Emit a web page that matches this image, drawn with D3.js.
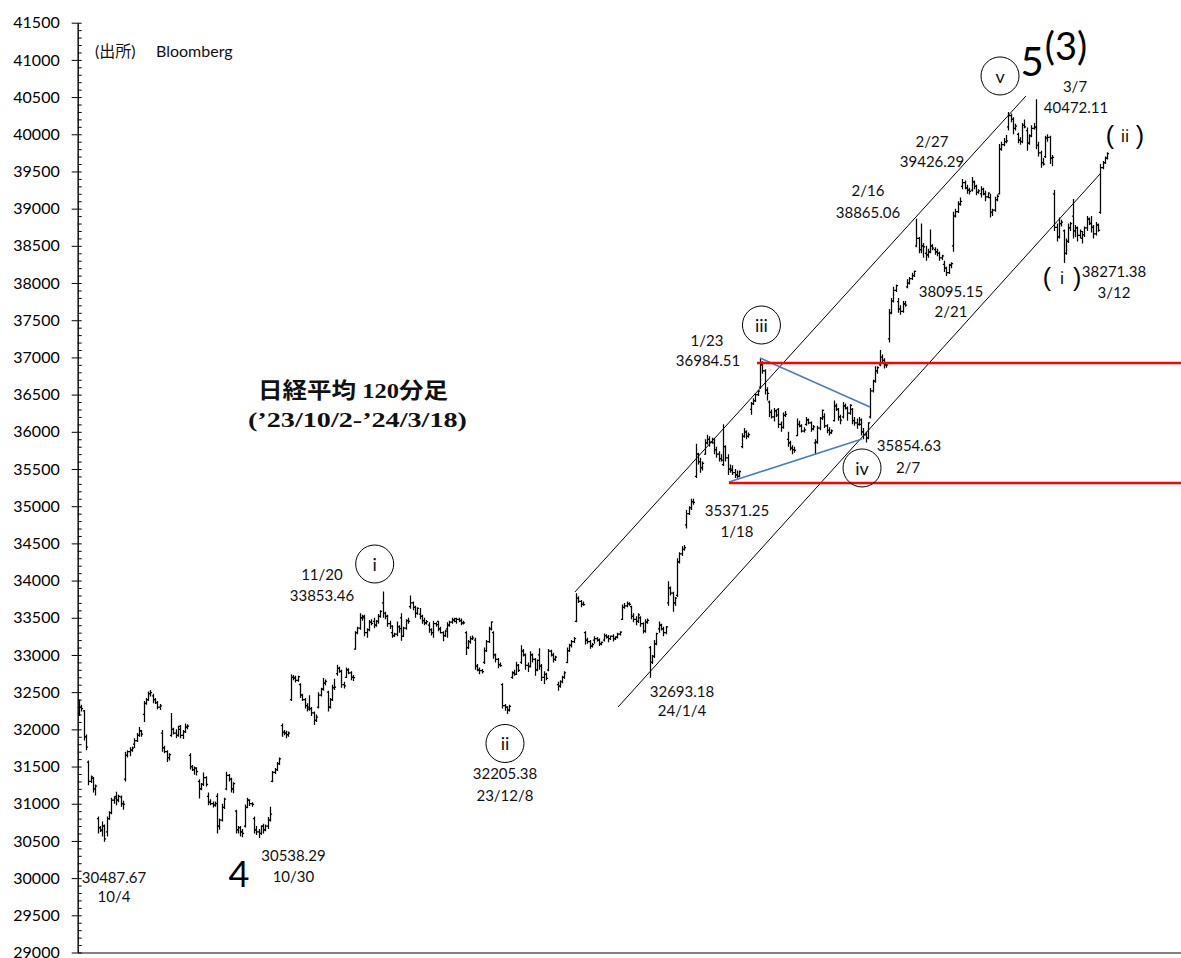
<!DOCTYPE html>
<html><head><meta charset="utf-8">
<script src="https://cdn.jsdelivr.net/npm/d3@7"></script>
<style>body{margin:0;background:#fff}</style>
</head><body><svg id="c" width="1181" height="958"></svg>
<script>
// ===== DATA: Nikkei 225, 120-minute bars, 4 bars per trading day, [open, high, low, close] =====
const oct23 = [
 [[32210,32400,32180,32300],[32300,32330,32240,32280],[32250,32260,31850,31900],[31900,31930,31720,31760]], // 10/2
 [[31560,31580,31250,31300],[31300,31380,31280,31360],[31340,31360,31150,31200],[31200,31260,31110,31238]], // 10/3
 [[30800,30830,30600,30680],[30680,30700,30620,30650],[30640,30760,30560,30700],[30700,30720,30488,30527]], // 10/4
 [[30620,30830,30560,30800],[30800,30900,30780,30880],[30880,31080,30860,31050],[31050,31100,31000,31075]], // 10/5
 [[31100,31160,30980,31050],[31050,31120,31020,31100],[31090,31110,30960,31000],[31000,31040,30920,30995]], // 10/6
 [[31330,31700,31300,31650],[31650,31720,31620,31700],[31700,31760,31640,31720],[31720,31770,31700,31747]], // 10/10
 [[31800,31880,31750,31850],[31850,31950,31830,31920],[31920,32030,31900,31980],[31980,31990,31900,31937]], // 10/11
 [[32200,32380,32100,32350],[32350,32420,32330,32400],[32400,32510,32380,32480],[32480,32530,32440,32495]], // 10/12
 [[32450,32480,32350,32400],[32400,32420,32340,32360],[32360,32380,32270,32300],[32300,32340,32260,32316]], // 10/13
 [[31950,31990,31700,31750],[31750,31780,31680,31700],[31700,31720,31560,31620],[31620,31680,31580,31659]], // 10/16
 [[31920,32220,31900,32000],[32000,32020,31930,31950],[31950,32000,31880,31920],[31920,32050,31900,32040]], // 10/17
 [[32000,32060,31880,31920],[31920,31990,31870,31970],[31970,32080,31950,32030],[32030,32070,32000,32042]], // 10/18
 [[31650,31680,31460,31500],[31500,31520,31440,31460],[31460,31500,31390,31480],[31480,31490,31380,31431]], // 10/19
 [[31300,31330,31070,31200],[31200,31280,31180,31260],[31260,31420,31240,31350],[31350,31370,31230,31259]], // 10/20
 [[31100,31150,30980,31020],[31020,31060,30980,31000],[31000,31030,30950,30980],[30980,31030,30960,31000]], // 10/23
 [[31100,31140,30600,30700],[30700,30800,30650,30780],[30780,31000,30760,30950],[30950,31080,30930,31062]], // 10/24
 [[31200,31430,31180,31380],[31380,31400,31300,31330],[31330,31350,31150,31200],[31200,31290,31140,31270]], // 10/25
 [[30900,30920,30600,30650],[30650,30700,30600,30680],[30680,30700,30560,30620],[30620,30660,30550,30602]], // 10/26
 [[30700,30990,30680,30950],[30950,31080,30940,31050],[31050,31060,30970,31000],[31000,31020,30960,30992]], // 10/27
 [[30800,30830,30600,30650],[30650,30700,30580,30620],[30620,30660,30538,30600],[30600,30710,30580,30697]], // 10/30
 [[30700,30730,30600,30650],[30650,30720,30630,30700],[30700,30820,30660,30780],[30780,30960,30760,30859]]  // 10/31
];
const nov23 = [
 [[31300,31440,31290,31420],[31420,31480,31400,31460],[31460,31560,31440,31540],[31540,31620,31520,31602]], // 11/1
 [[32050,32080,31900,31960],[31960,31990,31920,31950],[31950,31980,31880,31930],[31930,31970,31900,31950]], // 11/2
 [[32400,32740,32380,32700],[32700,32730,32660,32690],[32690,32720,32630,32660],[32660,32720,32640,32708]], // 11/6
 [[32600,32620,32420,32460],[32460,32480,32380,32400],[32400,32420,32280,32320],[32320,32350,32240,32272]], // 11/7
 [[32300,32460,32250,32280],[32280,32300,32180,32220],[32220,32240,32060,32120],[32120,32200,32100,32166]], // 11/8
 [[32300,32500,32280,32460],[32460,32560,32440,32540],[32540,32690,32520,32620],[32620,32670,32590,32646]], // 11/9
 [[32500,32520,32240,32300],[32300,32420,32280,32400],[32400,32600,32380,32560],[32560,32680,32530,32568]], // 11/10
 [[32750,32870,32720,32820],[32820,32840,32760,32780],[32780,32800,32560,32600],[32600,32640,32550,32585]], // 11/13
 [[32700,32830,32690,32800],[32800,32820,32740,32760],[32760,32780,32660,32700],[32700,32730,32650,32696]], // 11/14
 [[33080,33320,33070,33300],[33300,33380,33280,33360],[33360,33560,33340,33500],[33500,33540,33460,33520]], // 11/15
 [[33500,33540,33250,33300],[33300,33360,33230,33340],[33340,33470,33320,33440],[33440,33480,33400,33424]], // 11/16
 [[33450,33500,33360,33400],[33400,33470,33380,33450],[33450,33550,33420,33520],[33520,33600,33500,33585]], // 11/17
 [[33700,33853,33500,33560],[33560,33580,33480,33520],[33520,33540,33380,33420],[33420,33460,33350,33388]], // 11/20
 [[33300,33400,33230,33260],[33260,33300,33240,33280],[33280,33450,33250,33380],[33380,33400,33300,33354]], // 11/21
 [[33500,33560,33190,33250],[33250,33380,33240,33360],[33360,33480,33340,33460],[33460,33500,33420,33452]], // 11/22
 [[33650,33800,33620,33700],[33700,33720,33600,33640],[33640,33660,33500,33560],[33560,33640,33540,33626]], // 11/24
 [[33550,33630,33480,33520],[33520,33540,33420,33460],[33460,33500,33400,33430],[33430,33470,33410,33448]], // 11/27
 [[33400,33440,33300,33340],[33340,33360,33260,33300],[33300,33460,33230,33420],[33420,33440,33380,33408]], // 11/28
 [[33450,33460,33320,33350],[33350,33380,33290,33300],[33300,33320,33185,33260],[33260,33340,33240,33321]], // 11/29
 [[33350,33440,33230,33400],[33400,33460,33380,33440],[33440,33500,33420,33470],[33470,33500,33440,33487]]  // 11/30
];
const dec23 = [
 [[33450,33500,33420,33480],[33480,33500,33440,33460],[33460,33490,33400,33430],[33430,33460,33410,33432]], // 12/1
 [[33300,33320,33000,33100],[33100,33200,33080,33180],[33180,33250,33150,33220],[33220,33260,33200,33231]], // 12/4
 [[33200,33230,32800,32850],[32850,32880,32780,32800],[32800,32830,32740,32790],[32790,32810,32750,32776]], // 12/5
 [[32900,33100,32880,33060],[33060,33200,33040,33180],[33180,33380,33160,33350],[33350,33450,33330,33446]], // 12/6
 [[33300,33320,32950,33000],[33000,33020,32900,32940],[32940,32960,32820,32870],[32870,32900,32840,32858]], // 12/7
 [[32600,32620,32280,32320],[32320,32340,32250,32300],[32300,32310,32205,32260],[32260,32330,32240,32308]], // 12/8
 [[32700,32780,32680,32760],[32760,32800,32720,32740],[32740,32910,32730,32860],[32860,32880,32770,32792]], // 12/11
 [[32900,33130,32880,33050],[33050,33080,32980,33000],[33000,33020,32800,32860],[32860,32900,32770,32843]], // 12/12
 [[32850,33050,32830,33000],[33000,33020,32900,32940],[32940,32960,32720,32800],[32800,32940,32780,32926]], // 12/13
 [[33000,33090,32800,32850],[32850,32880,32650,32700],[32700,32780,32610,32740],[32740,32760,32660,32686]], // 12/14
 [[32800,33080,32780,33050],[33050,33070,32980,33000],[33000,33030,32900,32940],[32940,32990,32920,32971]], // 12/15
 [[32600,32640,32520,32580],[32580,32660,32560,32640],[32640,32720,32620,32700],[32700,32780,32680,32759]], // 12/18
 [[32900,33100,32890,33060],[33060,33150,33040,33130],[33130,33200,33100,33180],[33180,33240,33160,33219]], // 12/19
 [[33450,33830,33440,33760],[33760,33790,33700,33720],[33720,33740,33640,33680],[33680,33720,33660,33676]], // 12/20
 [[33300,33320,33140,33200],[33200,33230,33150,33180],[33180,33200,33085,33120],[33120,33160,33100,33140]], // 12/21
 [[33200,33250,33150,33220],[33220,33240,33180,33200],[33200,33220,33120,33150],[33150,33180,33130,33169]], // 12/22
 [[33200,33290,33180,33260],[33260,33280,33220,33240],[33240,33270,33170,33220],[33220,33260,33200,33254]], // 12/25
 [[33250,33280,33180,33220],[33220,33250,33200,33240],[33240,33300,33220,33280],[33280,33320,33260,33306]], // 12/26
 [[33480,33680,33470,33640],[33640,33700,33620,33660],[33660,33720,33640,33690],[33690,33710,33660,33681]], // 12/27
 [[33650,33660,33480,33520],[33520,33560,33440,33480],[33480,33520,33400,33450],[33450,33560,33430,33540]], // 12/28
 [[33500,33520,33380,33420],[33420,33440,33290,33320],[33320,33480,33300,33440],[33440,33490,33420,33464]]  // 12/29
];
const jan24 = [
 [[33100,33120,32693,32900],[32900,33000,32880,32980],[32980,33200,32960,33150],[33150,33300,33130,33288]], // 1/4
 [[33350,33450,33300,33400],[33400,33420,33330,33350],[33350,33380,33250,33300],[33300,33390,33280,33377]], // 1/5
 [[33700,33990,33660,33900],[33900,33920,33800,33830],[33830,33850,33580,33700],[33700,33780,33660,33763]], // 1/9
 [[33800,34300,33780,34250],[34250,34380,34230,34360],[34360,34460,34330,34420],[34420,34480,34400,34442]], // 1/10
 [[34750,34950,34700,34900],[34900,35000,34880,34980],[34980,35100,34950,35060],[35060,35100,35020,35050]], // 1/11
 [[35400,35840,35380,35700],[35700,35720,35560,35600],[35600,35650,35450,35520],[35520,35600,35480,35577]], // 1/12
 [[35700,35900,35690,35850],[35850,35960,35830,35900],[35900,35940,35800,35860],[35860,35920,35840,35902]], // 1/15
 [[35850,35920,35700,35760],[35760,35800,35650,35700],[35700,35740,35600,35640],[35640,35700,35600,35619]], // 1/16
 [[35560,36100,35540,35800],[35800,35820,35600,35650],[35650,35700,35420,35500],[35500,35560,35450,35478]], // 1/17
 [[35500,35550,35420,35450],[35450,35500,35380,35420],[35420,35480,35371,35400],[35400,35480,35390,35466]], // 1/18
 [[35800,35980,35780,35940],[35940,36050,35920,36000],[36000,36020,35900,35940],[35940,35990,35920,35963]], // 1/19
 [[36300,36400,36230,36380],[36380,36450,36360,36420],[36420,36520,36400,36500],[36500,36560,36480,36547]], // 1/22
 [[36600,36984,36580,36900],[36900,36950,36780,36820],[36820,36840,36500,36560],[36560,36600,36420,36518]], // 1/23
 [[36400,36420,36200,36260],[36260,36300,36180,36200],[36200,36320,36140,36280],[36280,36300,36200,36226]], // 1/24
 [[36300,36320,36050,36100],[36100,36140,36000,36060],[36060,36260,36040,36220],[36220,36280,36200,36236]], // 1/25
 [[35900,36000,35800,35850],[35850,35880,35750,35780],[35780,35820,35700,35760],[35760,35800,35720,35751]], // 1/26
 [[35950,36180,35940,36100],[36100,36150,36060,36080],[36080,36100,35990,36010],[36010,36060,35990,36027]], // 1/29
 [[36100,36200,36080,36160],[36160,36180,36100,36120],[36120,36140,36000,36040],[36040,36090,36020,36066]], // 1/30
 [[35850,35900,35690,35860],[35860,36080,35840,36050],[36050,36200,36020,36180],[36180,36300,36160,36287]]  // 1/31
];
const feb24 = [
 [[36200,36250,36050,36080],[36080,36100,35980,36020],[36020,36060,35950,35990],[35990,36030,35970,36011]], // 2/1
 [[36150,36420,36140,36350],[36350,36380,36280,36300],[36300,36320,36150,36200],[36200,36230,36100,36158]], // 2/2
 [[36200,36400,36180,36350],[36350,36380,36300,36320],[36320,36340,36150,36250],[36250,36370,36230,36354]], // 2/5
 [[36300,36320,36100,36150],[36150,36200,36080,36120],[36120,36180,36040,36100],[36100,36200,36080,36161]], // 2/6
 [[36100,36180,35950,36000],[36000,36050,35900,35960],[35960,36000,35855,35920],[35920,36130,35900,36120]], // 2/7
 [[36200,36590,36180,36550],[36550,36700,36530,36680],[36680,36880,36660,36820],[36820,36880,36780,36863]], // 2/8
 [[36900,37100,36880,37000],[37000,37040,36920,36960],[36960,36990,36850,36900],[36900,36940,36860,36897]], // 2/9
 [[37250,37650,37200,37600],[37600,37800,37580,37760],[37760,37950,37740,37900],[37900,37980,37880,37964]], // 2/13
 [[37750,37800,37600,37650],[37650,37700,37575,37620],[37620,37760,37600,37720],[37720,37760,37680,37703]], // 2/14
 [[37950,38050,37930,38000],[38000,38080,37980,38060],[38060,38140,38040,38100],[38100,38170,38080,38158]], // 2/15
 [[38500,38865,38480,38600],[38600,38620,38400,38450],[38450,38800,38400,38500],[38500,38540,38340,38487]], // 2/16
 [[38400,38500,38300,38380],[38380,38460,38340,38420],[38420,38720,38400,38500],[38500,38520,38440,38470]], // 2/19
 [[38450,38480,38380,38420],[38420,38460,38360,38400],[38400,38420,38300,38340],[38340,38380,38310,38364]], // 2/20
 [[38250,38300,38150,38200],[38200,38220,38095,38140],[38140,38260,38120,38240],[38240,38280,38200,38262]], // 2/21
 [[38500,38960,38420,38900],[38900,39000,38880,38960],[38960,39100,38940,39060],[39060,39150,39040,39099]], // 2/22
 [[39300,39400,39260,39350],[39350,39380,39260,39280],[39280,39320,39200,39250],[39250,39280,39190,39234]], // 2/26
 [[39250,39426,39230,39360],[39360,39380,39260,39300],[39300,39320,39180,39220],[39220,39260,39200,39240]], // 2/27
 [[39200,39300,39150,39260],[39260,39280,39180,39200],[39200,39240,39100,39160],[39160,39220,39140,39208]], // 2/28
 [[39150,39200,38880,38950],[38950,39000,38900,38980],[38980,39160,38960,39120],[39120,39190,39100,39166]]  // 2/29
];
const mar24 = [
 [[39200,39870,39190,39800],[39800,39900,39780,39860],[39860,39950,39840,39900],[39900,39990,39880,39911]], // 3/1
 [[40100,40300,40050,40250],[40250,40280,40160,40200],[40200,40230,40000,40080],[40080,40140,40050,40109]], // 3/4
 [[40000,40020,39880,39920],[39920,39960,39860,39900],[39900,40150,39880,40120],[40120,40200,40080,40098]], // 3/5
 [[40050,40090,39780,39880],[39880,40000,39860,39980],[39980,40120,39960,40080],[40080,40150,40060,40091]], // 3/6
 [[40100,40472,39800,39850],[39850,39900,39700,39750],[39750,39780,39550,39620],[39620,39680,39580,39599]], // 3/7
 [[39700,39980,39680,39950],[39950,40000,39900,39960],[39960,39980,39600,39680],[39680,39720,39570,39689]], // 3/8
 [[39200,39250,38700,38750],[38750,38800,38560,38620],[38620,38880,38600,38800],[38800,38850,38760,38820]], // 3/11
 [[38700,38720,38271,38400],[38400,38600,38380,38560],[38560,38800,38540,38740],[38740,38820,38700,38798]], // 3/12
 [[38900,39130,38600,38700],[38700,38780,38620,38740],[38740,38760,38560,38640],[38640,38720,38600,38696]], // 3/13
 [[38600,38700,38530,38650],[38650,38760,38620,38740],[38740,38900,38700,38860],[38860,38880,38780,38807]], // 3/14
 [[38800,38900,38680,38750],[38750,38780,38600,38660],[38660,38820,38640,38780],[38780,38800,38690,38708]], // 3/15
 [[38950,39600,38930,39550],[39550,39640,39530,39620],[39620,39700,39600,39680],[39680,39760,39660,39740]]  // 3/18
];

// y axis ticks
const yMajorTicks = d3.range(29000, 41501, 500);
const yMinorTicks = d3.range(29000, 41501, 100);

// annotation lines: [[dayPosition, price], ...]
const channelUpper = [[54.02, 33847], [103.04, 40515]];
const channelLower = [[58.7, 32300], [111.09, 39466]];
const redUpper = [[73.8, 36925], [120, 36925]];
const redLower = [[70.76, 35312], [120, 35312]];
const blueUpper = [[74.13, 36993], [86.09, 36334]];
const blueLower = [[70.76, 35326], [85.22, 35903]];

// value / date labels: [text, dayPosition, price]
const valueLabels = [
 ["30487.67", 3.91, 30015], ["10/4", 3.91, 29760],
 ["30538.29", 23.42, 30311], ["10/30", 23.42, 30028],
 ["11/20", 26.52, 34089], ["33853.46", 26.52, 33806],
 ["32205.38", 46.41, 31413], ["23/12/8", 46.41, 31117],
 ["32693.18", 65.65, 32516], ["24/1/4", 65.65, 32260],
 ["35371.25", 71.63, 34949], ["1/18", 71.63, 34667],
 ["1/23", 68.37, 37234], ["36984.51", 68.48, 36966],
 ["35854.63", 90.33, 35823], ["2/7", 90.22, 35527],
 ["2/16", 85.87, 39251], ["38865.06", 85.87, 38955],
 ["38095.15", 94.89, 37893], ["2/21", 94.89, 37624],
 ["2/27", 92.83, 39911], ["39426.29", 92.83, 39642],
 ["3/7", 108.37, 40649], ["40472.11", 108.48, 40367],
 ["38271.38", 112.61, 38162], ["3/12", 112.61, 37880]
];
// wave labels in circles: [text, dayPosition, price]
const circleLabels = [
 ["i", 32.25, 34223], ["ii", 46.41, 31810], ["iii", 74.29, 37436],
 ["iv", 85.22, 35514], ["v", 100.22, 40784]
];
const bigLabels = [["4", 17.5, 30069, 36], ["5", 103.7, 40985, 40], ["(3)", 107.39, 41200, 38]];
const parenLabels = [["ⅱ", 113.8, 39990], ["ⅰ", 106.96, 38081]];
const titleLines = [["日経平均 120分足", 29.89, 36562, 190], ["(’23/10/2-’24/3/18)", 30.38, 36172, 219]];
const sourceLabel = [["(出所)", 1.85, 41120], ["Bloomberg", 8.48, 41120]];

// ===== BUILD =====
const months = [oct23, nov23, dec23, jan24, feb24, mar24];
const days = months.flat();
const barsPerDay = 4;
const bars = [];
days.forEach((d, di) => d.forEach((b, bi) => bars.push({day: di, slot: bi, o: b[0], h: b[1], l: b[2], c: b[3]})));

const W = 1181, H = 958;
const x = d3.scaleLinear().domain([0, days.length]).range([78, 1108.4]);
const y = d3.scaleLinear().domain([29000, 41500]).range([952.5, 22.7]);
const axisX = 77.7;

const svg = d3.select("#c");
svg.append("rect").attr("width", W).attr("height", H).attr("fill", "#fff");

// Y axis
const gy = svg.append("g").attr("transform", `translate(${axisX},0)`);
gy.call(d3.axisLeft(y).tickValues(yMajorTicks).tickFormat(d3.format("d")).tickSize(6).tickSizeOuter(0).tickPadding(12));
gy.attr("font-family", "Lato, 'Open Sans', sans-serif").attr("font-size", 16);
gy.selectAll("text").attr("fill", "#000");
gy.selectAll("line,path").attr("stroke", "#000");
const gyMinor = svg.append("g").attr("transform", `translate(${axisX},0)`);
gyMinor.call(d3.axisRight(y).tickValues(yMinorTicks).tickSize(4).tickFormat("").tickSizeOuter(0));
gyMinor.selectAll("line,path").attr("stroke", "#000");

// X axis (line only)
const xAxisScale = d3.scaleLinear().domain([0, 1]).range([axisX, W]);
const gx = svg.append("g").attr("transform", `translate(0,${y(29000)})`);
gx.call(d3.axisBottom(xAxisScale).tickValues([]).tickSizeOuter(0));
gx.selectAll("path").attr("stroke", "#000");

// OHLC bars
const bx = b => Math.round(x(b.day + (b.slot + 0.5) / barsPerDay)) + 0.5;
svg.append("g").attr("stroke", "#000").attr("stroke-width", 1.25).attr("fill", "none")
 .selectAll("path").data(bars).join("path")
 .attr("d", b => { const cx = bx(b); return `M${cx},${y(b.h)}V${y(b.l)}M${cx - 1.6},${y(b.o)}H${cx}M${cx},${y(b.c)}H${cx + 1.6}`; });

// annotation lines
const line = d3.line().x(d => x(d[0])).y(d => y(d[1]));
const lines = [
 [channelUpper, "#000", 1], [channelLower, "#000", 1],
 [blueUpper, "#4a7ebb", 1.6], [blueLower, "#4a7ebb", 1.6],
 [redUpper, "#ff0000", 2.6], [redLower, "#ff0000", 2.6]
];
svg.append("g").attr("fill", "none").selectAll("path").data(lines).join("path")
 .attr("d", d => line(d[0])).attr("stroke", d => d[1]).attr("stroke-width", d => d[2]);

// text helpers
const sans = "Lato, 'Open Sans', 'Noto Sans CJK JP', sans-serif";
const tg = svg.append("g").attr("fill", "#111").attr("font-family", sans);

tg.selectAll("text.val").data(valueLabels).join("text").attr("class", "val")
 .attr("x", d => x(d[1])).attr("y", d => y(d[2]))
 .attr("text-anchor", "middle").attr("dominant-baseline", "central").attr("font-size", 15)
 .text(d => d[0]);

const cg = svg.append("g");
cg.selectAll("circle").data(circleLabels).join("circle")
 .attr("cx", d => x(d[1])).attr("cy", d => y(d[2])).attr("r", 19)
 .attr("fill", "none").attr("stroke", "#000").attr("stroke-width", 1);
cg.selectAll("text").data(circleLabels).join("text")
 .attr("x", d => x(d[1])).attr("y", d => y(d[2]))
 .attr("text-anchor", "middle").attr("dominant-baseline", "central")
 .attr("font-family", sans).attr("font-size", 18).attr("fill", "#111")
 .text(d => d[0]);

tg.selectAll("text.big").data(bigLabels).join("text").attr("class", "big")
 .attr("x", d => x(d[1])).attr("y", d => y(d[2]))
 .attr("text-anchor", "middle").attr("dominant-baseline", "central")
 .attr("font-size", d => d[3]).attr("fill", "#000")
 .text(d => d[0]);

const pt = tg.selectAll("text.par").data(parenLabels).join("text").attr("class", "par")
 .attr("x", d => x(d[1])).attr("y", d => y(d[2]))
 .attr("text-anchor", "middle").attr("dominant-baseline", "central").attr("fill", "#000");
pt.append("tspan").attr("font-size", 25).attr("font-family", "'Liberation Sans', sans-serif").text("(");
pt.append("tspan").attr("font-size", 15).attr("font-family", "'Noto Sans CJK JP', 'DejaVu Serif', serif").text(d => " " + d[0] + " ");
pt.append("tspan").attr("font-size", 25).attr("font-family", "'Liberation Sans', sans-serif").text(")");

svg.append("g").selectAll("text").data(titleLines).join("text")
 .attr("x", d => x(d[1])).attr("y", d => y(d[2]))
 .attr("text-anchor", "middle").attr("dominant-baseline", "central")
 .attr("font-family", "'Liberation Serif', 'Noto Sans CJK JP', serif").attr("font-weight", "bold")
 .attr("font-size", 22).attr("fill", "#111")
 .attr("textLength", d => d[3]).attr("lengthAdjust", "spacingAndGlyphs")
 .text(d => d[0]);

tg.selectAll("text.src").data(sourceLabel).join("text").attr("class", "src")
 .attr("x", d => x(d[1])).attr("y", d => y(d[2]))
 .attr("dominant-baseline", "central").attr("font-size", 16)
 .text(d => d[0]);
</script>
</body></html>
